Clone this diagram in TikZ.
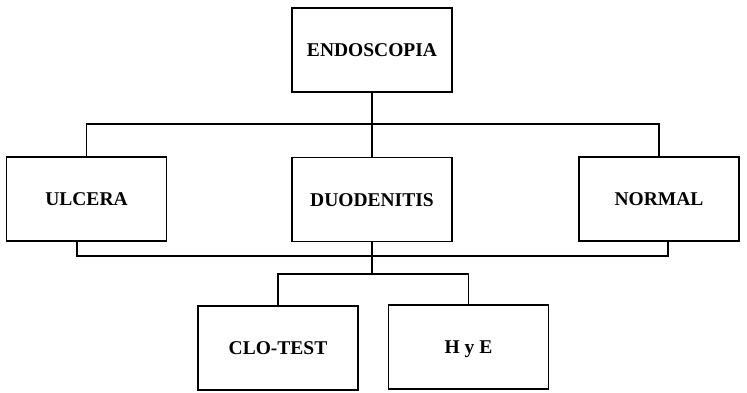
\documentclass[tikz,border=0pt]{standalone}
\usepackage{fontspec}
\setmainfont{Liberation Serif}
\begin{document}
\begin{tikzpicture}[x=1pt,y=-1pt,
  box/.style={draw=black,line width=1.6pt,fill=white,minimum width=160pt,minimum height=84pt,inner sep=0pt,text height=13pt,text depth=0pt,font=\fontsize{19.5}{22}\selectfont\bfseries},
  conn/.style={draw=black,line width=1.5pt}]
\useasboundingbox (0,0) rectangle (747,393);
\node[box] (endo) at (372,50) {ENDOSCOPIA};
\node[box] (ulc) at (86.5,199) {ULCERA};
\node[box] (duo) at (372,199.5) {DUODENITIS};
\node[box] (norm) at (659,199) {NORMAL};
\node[box] (clo) at (278,348) {CLO-TEST};
\node[box] (hye) at (468.5,347) {H y E};
\coordinate (tb) at (372,124);
\coordinate (lb) at (372,256);
\coordinate (sb) at (372,274);
\draw[conn] (endo.south) -- (duo.north);
\draw[conn] (ulc.north) |- (tb) -| (norm.north);
\draw[conn] ([xshift=-9.5pt]ulc.south) |- (lb) -| ([xshift=9pt]norm.south);
\draw[conn] (duo.south) -- (sb);
\draw[conn] (clo.north) |- (sb) -| (hye.north);
\end{tikzpicture}
\end{document}
